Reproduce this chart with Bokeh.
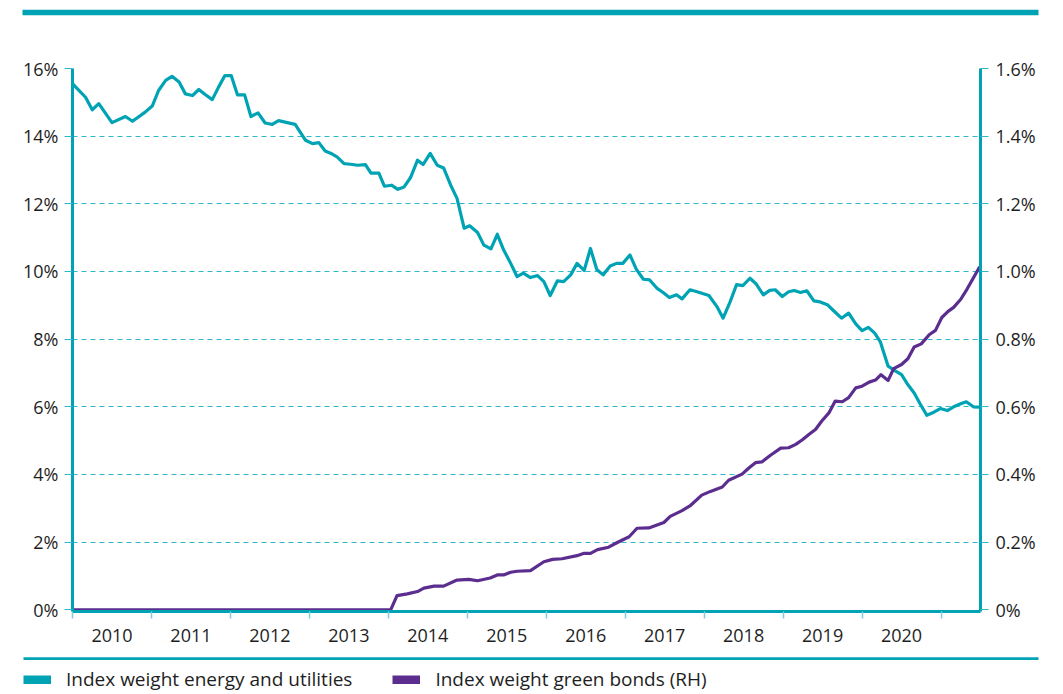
import numpy as np
from bokeh.plotting import figure
from bokeh.layouts import column
from bokeh.models import (Range1d, LinearAxis, FixedTicker, Legend, LegendItem,
                          BoxAnnotation, Grid, ColumnDataSource)
from bokeh.embed import file_html
from bokeh.resources import INLINE

# ---------------- data ----------------
energy_year = [2010.00, 2010.165, 2010.25, 2010.333, 2010.50, 2010.67, 2010.76, 2010.92,
               2011.01, 2011.09, 2011.18, 2011.26, 2011.35, 2011.43, 2011.52, 2011.60,
               2011.68, 2011.77, 2011.85, 2011.93, 2012.01, 2012.09, 2012.18, 2012.26,
               2012.35, 2012.44, 2012.53, 2012.61, 2012.72, 2012.82, 2012.95, 2013.04,
               2013.12, 2013.20, 2013.29, 2013.35, 2013.44, 2013.52, 2013.61, 2013.71,
               2013.78, 2013.88, 2013.95, 2014.04, 2014.12, 2014.20, 2014.28, 2014.37,
               2014.44, 2014.53, 2014.62, 2014.70, 2014.79, 2014.87, 2014.96, 2015.03,
               2015.13, 2015.21, 2015.30, 2015.38, 2015.46, 2015.55, 2015.63, 2015.71,
               2015.80, 2015.89, 2015.97, 2016.05, 2016.14, 2016.22, 2016.31, 2016.39,
               2016.48, 2016.56, 2016.64, 2016.72, 2016.81, 2016.89, 2016.97, 2017.06,
               2017.14, 2017.23, 2017.31, 2017.40, 2017.48, 2017.56, 2017.65, 2017.72,
               2017.82, 2017.90, 2017.99, 2018.06, 2018.16, 2018.24, 2018.33, 2018.41,
               2018.49, 2018.58, 2018.66, 2018.75, 2018.83, 2018.90, 2018.99, 2019.07,
               2019.14, 2019.22, 2019.30, 2019.39, 2019.47, 2019.56, 2019.64, 2019.74,
               2019.83, 2019.92, 2020.00, 2020.08, 2020.16, 2020.23, 2020.33, 2020.41,
               2020.50, 2020.57, 2020.66, 2020.74, 2020.82, 2020.91, 2020.99, 2021.08,
               2021.16, 2021.25, 2021.32, 2021.41, 2021.49]
energy_pct = [15.55, 15.15, 14.78, 14.96, 14.40, 14.58, 14.44, 14.71,
              14.89, 15.35, 15.65, 15.77, 15.60, 15.25, 15.20, 15.38,
              15.23, 15.08, 15.45, 15.79, 15.79, 15.22, 15.22, 14.58,
              14.69, 14.39, 14.35, 14.46, 14.40, 14.35, 13.88, 13.78,
              13.81, 13.56, 13.47, 13.39, 13.19, 13.17, 13.14, 13.16,
              12.91, 12.91, 12.52, 12.55, 12.43, 12.50, 12.77, 13.29,
              13.16, 13.49, 13.14, 13.06, 12.55, 12.16, 11.28, 11.35,
              11.15, 10.78, 10.67, 11.10, 10.64, 10.24, 9.85, 9.95,
              9.82, 9.88, 9.70, 9.29, 9.72, 9.70, 9.90, 10.24,
              10.03, 10.68, 10.06, 9.90, 10.16, 10.24, 10.24, 10.49,
              10.07, 9.77, 9.75, 9.51, 9.38, 9.23, 9.31, 9.19,
              9.46, 9.41, 9.34, 9.29, 8.97, 8.62, 9.11, 9.61,
              9.58, 9.80, 9.63, 9.31, 9.44, 9.46, 9.26, 9.40,
              9.44, 9.38, 9.43, 9.13, 9.10, 9.02, 8.84, 8.62,
              8.77, 8.45, 8.25, 8.35, 8.18, 7.93, 7.20, 7.08,
              6.95, 6.69, 6.41, 6.07, 5.75, 5.84, 5.95, 5.89,
              6.00, 6.09, 6.15, 6.00, 5.99]

green_year = [2010.00, 2014.03, 2014.11, 2014.24, 2014.37, 2014.45, 2014.58, 2014.70,
              2014.87, 2015.02, 2015.13, 2015.29, 2015.38, 2015.46, 2015.55, 2015.63,
              2015.80, 2015.97, 2016.08, 2016.20, 2016.39, 2016.48, 2016.56, 2016.65,
              2016.79, 2016.90, 2017.05, 2017.15, 2017.30, 2017.49, 2017.57, 2017.72,
              2017.83, 2017.97, 2018.08, 2018.23, 2018.31, 2018.48, 2018.57, 2018.65,
              2018.73, 2018.84, 2018.97, 2019.07, 2019.16, 2019.24, 2019.33, 2019.41,
              2019.49, 2019.58, 2019.66, 2019.75, 2019.83, 2019.92, 2020.00, 2020.09,
              2020.17, 2020.24, 2020.33, 2020.40, 2020.50, 2020.58, 2020.66, 2020.75,
              2020.85, 2020.93, 2021.01, 2021.09, 2021.16, 2021.25, 2021.33, 2021.42,
              2021.49]
green_pct = [0.0, 0.0, 0.042, 0.047, 0.054, 0.064, 0.070, 0.070,
             0.088, 0.090, 0.086, 0.094, 0.103, 0.103, 0.111, 0.114,
             0.116, 0.142, 0.149, 0.151, 0.160, 0.167, 0.167, 0.178,
             0.185, 0.199, 0.216, 0.241, 0.242, 0.258, 0.276, 0.293,
             0.309, 0.339, 0.350, 0.363, 0.383, 0.401, 0.420, 0.435,
             0.437, 0.457, 0.478, 0.479, 0.489, 0.502, 0.519, 0.533,
             0.558, 0.582, 0.617, 0.615, 0.627, 0.656, 0.661, 0.673,
             0.679, 0.695, 0.678, 0.713, 0.725, 0.742, 0.777, 0.786,
             0.813, 0.826, 0.864, 0.882, 0.894, 0.918, 0.948, 0.985,
             1.014]

year_labels = ["2010", "2011", "2012", "2013", "2014", "2015", "2016",
               "2017", "2018", "2019", "2020"]
year_label_pos = [2010.5, 2011.5, 2012.5, 2013.5, 2014.5, 2015.5, 2016.5,
                  2017.5, 2018.5, 2019.5, 2020.5]
year_bounds = [2010, 2011, 2012, 2013, 2014, 2015, 2016, 2017, 2018, 2019,
               2020, 2021]
left_ticks = [0, 2, 4, 6, 8, 10, 12, 14, 16]
left_labels = ["0%", "2%", "4%", "6%", "8%", "10%", "12%", "14%", "16%"]
right_ticks = [0, 0.2, 0.4, 0.6, 0.8, 1.0, 1.2, 1.4, 1.6]
right_labels = ["0%", "0.2%", "0.4%", "0.6%", "0.8%", "1.0%", "1.2%", "1.4%", "1.6%"]

series_names = ["Index weight energy and utilities", "Index weight green bonds (RH)"]

# ---------------- style ----------------
TEAL = "#00a3b4"
PURPLE = "#5b2d8e"
GRID = "#2fb8cb"
TICK = "#80d0dc"
TEXT = "#1e1e1e"
FONT = "Open Sans"
W = 1055


def strip(h):
    f = figure(width=W, height=h, x_range=Range1d(0, W), y_range=Range1d(0, h),
               x_axis_type=None, y_axis_type=None, output_backend="svg",
               toolbar_location=None, min_border=0, outline_line_color=None,
               background_fill_color="white", border_fill_color="white")
    f.frame_align = False
    return f


# ---- top rule ----
top = strip(16)
top.add_layout(BoxAnnotation(left=22, right=1038, bottom=1.3, top=6.7,
                             fill_color=TEAL, fill_alpha=1, line_color=None))

# ---- main chart ----
p = figure(width=W, height=634,
           x_range=Range1d(2010, 2021.5), y_range=Range1d(-0.05, 16),
           x_axis_type=None, y_axis_type=None,
           output_backend="svg", toolbar_location=None,
           min_border_left=72, min_border_right=75,
           min_border_top=52, min_border_bottom=39,
           outline_line_color=None,
           background_fill_color="white", border_fill_color="white")
p.frame_align = False
p.extra_y_ranges = {"rh": Range1d(-0.005, 1.6)}

grid = Grid(dimension=1, ticker=FixedTicker(ticks=left_ticks[1:]),
            grid_line_color=GRID, grid_line_width=1.1, grid_line_dash="5 4")
p.add_layout(grid)

xaxis = LinearAxis(ticker=FixedTicker(ticks=year_label_pos, minor_ticks=year_bounds),
                   major_label_overrides=dict(zip(year_label_pos, year_labels)),
                   axis_line_color=TEAL, axis_line_width=3,
                   major_tick_out=0, major_tick_in=0, major_tick_line_color=None,
                   minor_tick_out=7, minor_tick_in=0,
                   minor_tick_line_color=TICK, minor_tick_line_width=1.5,
                   major_label_standoff=10,
                   major_label_text_font=FONT, major_label_text_font_size="18px",
                   major_label_text_color=TEXT)
p.add_layout(xaxis, "below")

yaxis = LinearAxis(ticker=FixedTicker(ticks=left_ticks, minor_ticks=[]),
                   major_label_overrides=dict(zip(left_ticks, left_labels)),
                   axis_line_color=TEAL, axis_line_width=3,
                   major_tick_out=8, major_tick_in=0,
                   major_tick_line_color=GRID, major_tick_line_width=1.1,
                   minor_tick_line_color=None,
                   major_label_standoff=6,
                   major_label_text_font=FONT, major_label_text_font_size="18px",
                   major_label_text_color=TEXT)
p.add_layout(yaxis, "left")

yaxis2 = LinearAxis(y_range_name="rh",
                    ticker=FixedTicker(ticks=right_ticks, minor_ticks=[]),
                    major_label_overrides=dict(zip(right_ticks, right_labels)),
                    axis_line_color=TEAL, axis_line_width=3,
                    major_tick_out=8, major_tick_in=0,
                    major_tick_line_color=GRID, major_tick_line_width=1.1,
                    minor_tick_line_color=None,
                    major_label_standoff=7,
                    major_label_text_font=FONT, major_label_text_font_size="18px",
                    major_label_text_color=TEXT)
p.add_layout(yaxis2, "right")

src_e = ColumnDataSource(dict(x=energy_year, y=energy_pct))
src_g = ColumnDataSource(dict(x=green_year, y=green_pct))
p.line("x", "y", source=src_e, line_color=TEAL, line_width=3.2, line_join="round")
p.line("x", "y", source=src_g, line_color=PURPLE, line_width=3.2, line_join="round",
       y_range_name="rh")

# ---- separator + legend ----
leg = strip(44)
leg.add_layout(BoxAnnotation(left=23, right=1038, bottom=34.5, top=37.3,
                             fill_color=TEAL, fill_alpha=1, line_color=None))
# legend swatch proxies (no visible data, only provide the bar-shaped key)
sw_src = ColumnDataSource(dict(x=np.array([np.nan]), y=np.array([np.nan])))
sw_e = leg.line("x", "y", source=sw_src, line_color=TEAL, line_width=9)
sw_g = leg.line("x", "y", source=sw_src, line_color=PURPLE, line_width=9)
legend = Legend(items=[LegendItem(label=series_names[0], renderers=[sw_e]),
                       LegendItem(label=series_names[1], renderers=[sw_g])],
                orientation="horizontal", location=(23, 2),
                glyph_width=28, glyph_height=9, label_standoff=15, spacing=40,
                padding=0, margin=0, border_line_color=None,
                background_fill_alpha=0,
                label_text_font=FONT, label_text_font_size="19px",
                label_text_color=TEXT)
leg.add_layout(legend)

layout = column(top, p, leg, spacing=0)
open("out.html", "w").write(file_html(layout, INLINE))
